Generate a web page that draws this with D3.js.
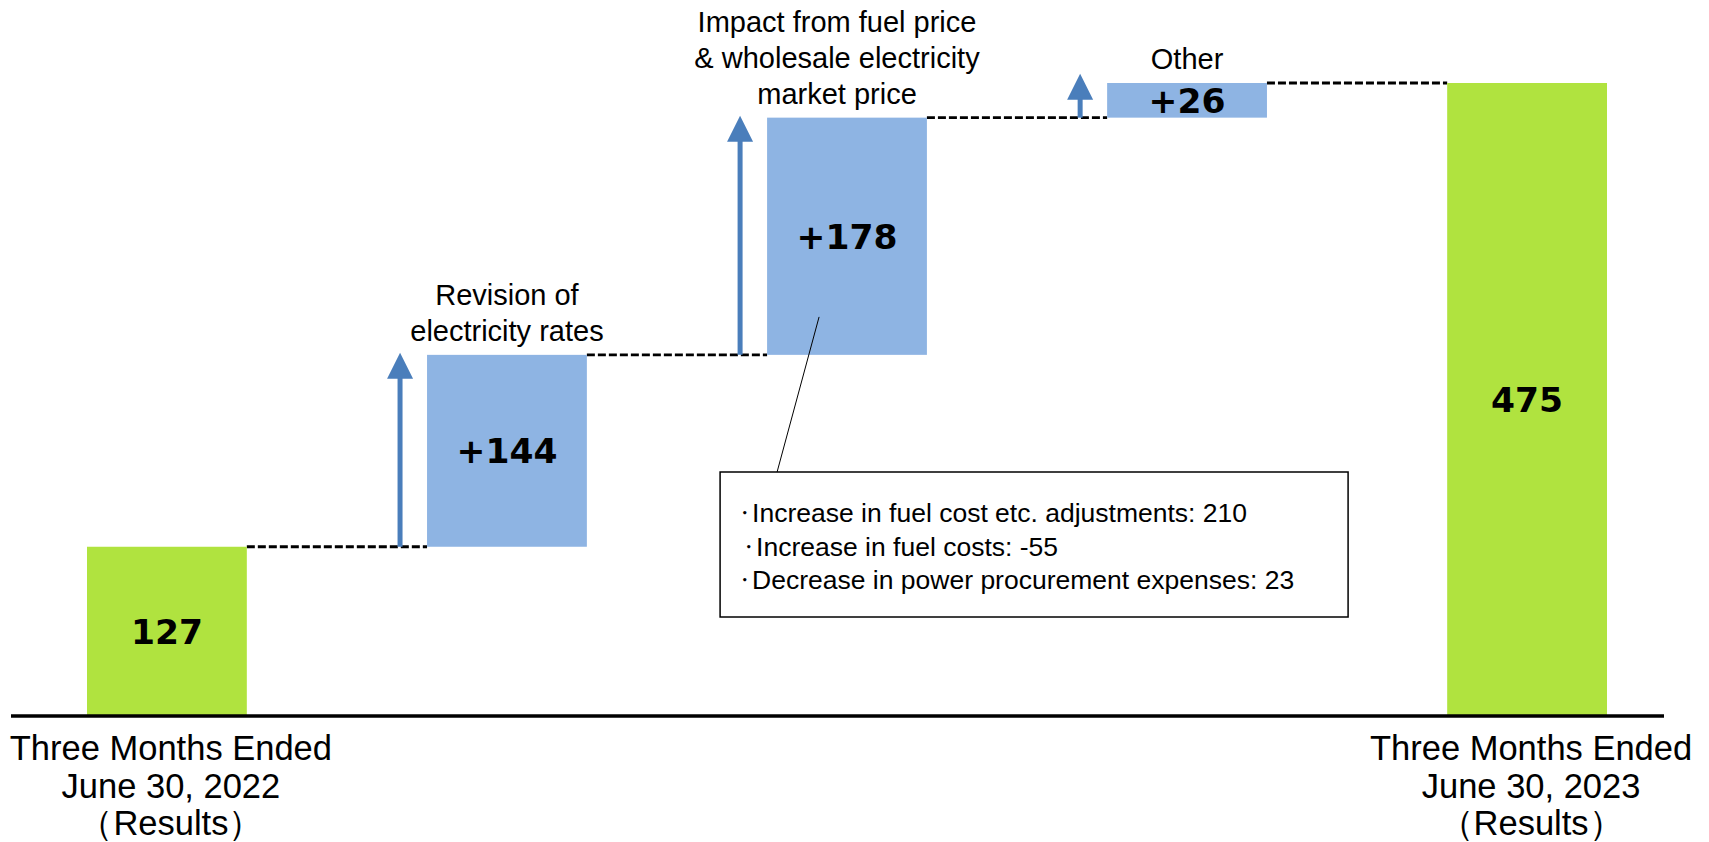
<!DOCTYPE html>
<html>
<head>
<meta charset="utf-8">
<script src="https://cdn.jsdelivr.net/npm/d3@7"></script>
<style>
  body { margin: 0; background: #fff; }
  svg { display: block; }
</style>
</head>
<body>
<div id="chart"></div>
<script>
/* Waterfall: Q1 ordinary income bridge, FY2022 -> FY2023 */

// steps of the bridge, left to right
const steps = ["start", "rates", "fuel", "other", "end"];
const kinds = ["total", "delta", "delta", "delta", "total"];
const values = [127, 144, 178, 26, 475];
const valueLabels = ["127", "+144", "+178", "+26", "475"];

// labels above the delta bars
const stepNotes = [
    [],
    ["Revision of", "electricity rates"],
    ["Impact from fuel price", "& wholesale electricity", "market price"],
    ["Other"],
    []
];

// labels under the axis
const axisLabels = [
    ["Three Months Ended", "June 30, 2022", "（Results）"],
    [], [], [],
    ["Three Months Ended", "June 30, 2023", "（Results）"]
];

// breakdown of the fuel price impact
const noteLines = [
    "・Increase in fuel cost etc. adjustments: 210",
    "・Increase in fuel costs: -55",
    "・Decrease in power procurement expenses: 23"
];

const width = 1709,
    height = 842;

const green = "#b0e33f",
    blue = "#8eb4e3",
    arrowBlue = "#4a7ebb";

// work out base and top for every bar
let running = 0;
const bars = steps.map((s, i) => {
    let base, top;
    if (kinds[i] === "total") {
        base = 0;
        top = values[i];
        running = values[i];
    } else {
        base = running;
        top = running + values[i];
        running = top;
    }
    return { step: s, kind: kinds[i], base, top, label: valueLabels[i], note: stepNotes[i], axis: axisLabels[i] };
});
console.log(bars);

const x = d3.scaleBand()
    .domain(steps)
    .range([87, 1607])
    .paddingInner(0.53)
    .paddingOuter(0);

const y = d3.scaleLinear()
    .domain([0, 475])
    .range([716, 83]);

const svg = d3.select("#chart")
    .append("svg")
    .attr("width", width)
    .attr("height", height)
    .attr("viewBox", [0, 0, width, height]);

// dashed connectors between bars
const links = bars.slice(0, -1).map((d, i) => ({
    x1: x(d.step) + x.bandwidth(),
    x2: x(bars[i + 1].step),
    level: d.top
}));

svg.append("g")
    .attr("stroke", "#000")
    .attr("stroke-width", 2.8)
    .attr("stroke-dasharray", "8,3")
    .selectAll("line")
    .data(links)
    .join("line")
    .attr("x1", d => d.x1)
    .attr("x2", d => d.x2)
    .attr("y1", d => y(d.level))
    .attr("y2", d => y(d.level));

// bars
svg.append("g")
    .selectAll("rect")
    .data(bars)
    .join("rect")
    .attr("x", d => x(d.step))
    .attr("width", x.bandwidth())
    .attr("y", d => y(d.top))
    .attr("height", d => y(d.base) - y(d.top))
    .attr("fill", d => d.kind === "total" ? green : blue);

// up arrows beside the delta bars
const deltas = bars.filter(d => d.kind === "delta");
const arrowX = d => x(d.step) - 27;
const arrowTip = d => Math.min(y(d.top) - 2, y(d.base) - 44);
const headH = 26, headW = 26;

const arrows = svg.append("g").selectAll("g")
    .data(deltas)
    .join("g");

arrows.append("line")
    .attr("x1", arrowX)
    .attr("x2", arrowX)
    .attr("y1", d => y(d.base))
    .attr("y2", d => arrowTip(d) + headH - 1)
    .attr("stroke", arrowBlue)
    .attr("stroke-width", 5);

arrows.append("path")
    .attr("fill", arrowBlue)
    .attr("d", d => {
        const cx = arrowX(d), t = arrowTip(d);
        return `M${cx},${t} L${cx + headW / 2},${t + headH} L${cx - headW / 2},${t + headH} Z`;
    });

// value labels inside bars
svg.append("g")
    .attr("font-family", "'DejaVu Sans', Verdana, sans-serif")
    .attr("font-weight", "bold")
    .attr("font-size", 34.5)
    .attr("text-anchor", "middle")
    .selectAll("text")
    .data(bars)
    .join("text")
    .attr("x", d => x(d.step) + x.bandwidth() / 2)
    .attr("y", d => (y(d.base) + y(d.top)) / 2)
    .attr("dy", "0.36em")
    .text(d => d.label);

// notes above the delta bars
svg.append("g")
    .attr("font-family", "'Liberation Sans', Arial, sans-serif")
    .attr("font-size", 29)
    .attr("text-anchor", "middle")
    .selectAll("text")
    .data(deltas)
    .join("text")
    .attr("x", d => x(d.step) + x.bandwidth() / 2 + (d.note.length > 2 ? -10 : 0))
    .attr("y", d => y(d.top) - 14 - (d.note.length - 1) * 36)
    .selectAll("tspan")
    .data(d => d.note)
    .join("tspan")
    .attr("x", function () { return this.parentNode.getAttribute("x"); })
    .attr("dy", (t, i) => i ? 36 : 0)
    .text(t => t);

// callout for the fuel price step
const fuel = bars.find(d => d.step === "fuel");
const box = { x: x("fuel") - 47, y: 472, w: 628, h: 145 };

svg.append("line")
    .attr("x1", x("fuel") + 52)
    .attr("y1", y(fuel.base + (fuel.top - fuel.base) * 0.16))
    .attr("x2", box.x + 57)
    .attr("y2", box.y)
    .attr("stroke", "#000")
    .attr("stroke-width", 1);

svg.append("rect")
    .attr("x", box.x)
    .attr("y", box.y)
    .attr("width", box.w)
    .attr("height", box.h)
    .attr("fill", "#fff")
    .attr("stroke", "#000")
    .attr("stroke-width", 1.5);

const noteText = svg.append("g")
    .attr("font-family", "'Liberation Sans', Arial, sans-serif")
    .attr("font-size", 26.5)
    .selectAll("text")
    .data(noteLines)
    .join("text")
    .attr("x", (t, i) => box.x + 14 + (i === 1 ? 4 : 0))
    .attr("y", (t, i) => box.y + 50 + i * 33.5);

// bullet dot is full width in the CJK font, so set it smaller and lift it
noteText.append("tspan")
    .attr("font-size", 21)
    .attr("letter-spacing", -3)
    .attr("dy", -2)
    .text(t => t.slice(0, 1));
noteText.append("tspan")
    .attr("dy", 2)
    .text(t => t.slice(1));

// axis baseline
svg.append("line")
    .attr("x1", 11)
    .attr("x2", 1664)
    .attr("y1", y(0))
    .attr("y2", y(0))
    .attr("stroke", "#000")
    .attr("stroke-width", 3.5);

// category labels under the axis
svg.append("g")
    .attr("font-family", "'Liberation Sans', Arial, sans-serif")
    .attr("font-size", 34.5)
    .attr("text-anchor", "middle")
    .selectAll("text")
    .data(bars.filter(d => d.axis.length))
    .join("text")
    .attr("x", d => x(d.step) + x.bandwidth() / 2 + 4)
    .attr("y", y(0) + 44)
    .selectAll("tspan")
    .data(d => d.axis)
    .join("tspan")
    .attr("x", function () { return this.parentNode.getAttribute("x"); })
    .attr("dy", (t, i) => i ? 37.5 : 0)
    .text(t => t);
</script>
</body>
</html>
